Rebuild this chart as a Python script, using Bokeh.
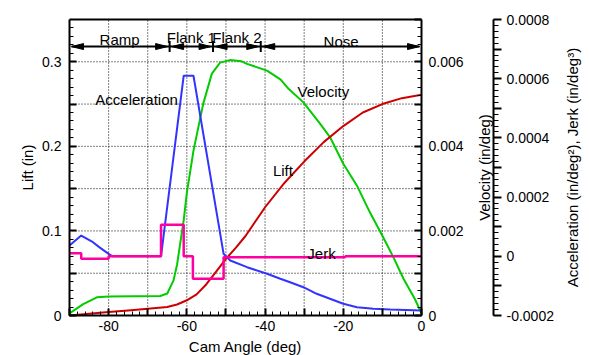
from bokeh.plotting import figure
from bokeh.models import (Range1d, LinearAxis, SingleIntervalTicker, FixedTicker,
                          CustomJSTickFormatter, Label)
from bokeh.core.properties import value
from bokeh.embed import file_html
from bokeh.resources import INLINE

FONT = "Liberation Sans"

# ---------------- data ----------------
angle_lift = [-90, -85, -80, -75, -70, -65, -62.5, -60, -57.5, -55, -52.5, -50, -47.5,
              -45, -40, -35, -30, -25, -20, -15, -10, -5, 0]
lift = [0.0, 0.002, 0.004, 0.006, 0.008, 0.010, 0.013, 0.018, 0.025, 0.037, 0.052, 0.067,
        0.080, 0.094, 0.128, 0.157, 0.182, 0.205, 0.224, 0.240, 0.250, 0.257, 0.261]

angle_vel = [-90, -86.5, -83, -80, -66.8, -65, -63.4, -62.5, -61.7, -60.8, -60, -58.3,
             -55.8, -53.6, -51.5, -49, -46, -44.6, -39.5, -36, -34, -30.2, -25.9, -23.4,
             -20, -16.5, -13.2, -9.8, -7.2, -4.6, -1.7, 0]
velocity = [0.00005, 0.00027, 0.00043, 0.00045, 0.00046, 0.00052, 0.00083, 0.00120,
            0.00170, 0.00225, 0.00290, 0.00390, 0.00501, 0.00572, 0.00598, 0.00604,
            0.00601, 0.00595, 0.00579, 0.00558, 0.00536, 0.00504, 0.00453, 0.00422,
            0.00359, 0.00307, 0.00244, 0.00185, 0.00138, 0.00087, 0.00039, 0.00005]

angle_acc = [-90, -87, -84, -82.4, -80, -79, -66.6, -60.8, -58.3, -50.6, -48.9, -44.6,
             -39.5, -36.1, -33.6, -30.2, -26.8, -23.4, -20, -16.5, -12.3, -8, 0]
acceleration = [0.0000365, 0.00007, 0.0000476, 0.000031, 0.0000084, 0.0, 0.0, 0.00061,
                0.00061, 0.0000084, -0.0000142, -0.0000368, -0.0000591, -0.000076,
                -0.0000875, -0.0001044, -0.0001267, -0.0001436, -0.0001605, -0.000172,
                -0.0001774, -0.0001797, -0.000183]

angle_jerk = [-90, -87, -80, -66.6, -60.8, -58.45, -50.6, -19.5, 0]
jerk = [0.0000105, -0.0000085, 0.0, 0.000107, 0.0, -0.000076, -0.000003, 0.0, 0.0]

section_names = ["Ramp", "Flank 1", "Flank 2", "Nose"]
section_bounds = [-90.0, -64.4, -53.3, -41.1, 0.0]
section_label_y = [0.326, 0.329, 0.329, 0.3245]
arrow_lift = 0.318

curve_labels = ["Acceleration", "Velocity", "Lift", "Jerk"]
curve_label_x = [-83.4, -31.7, -38.0, -29.2]
curve_label_y = [0.2551, 0.265, 0.1713, 0.0729]

x_grid_ticks = [-80, -70, -60, -50, -40, -30, -20, -10]
y_grid_ticks = [0.05, 0.10, 0.15, 0.20, 0.25, 0.30]

x_title = "Cam Angle (deg)"
lift_title = "Lift (in)"
vel_title = "Velocity (in/deg)"
acc_title = "Acceleration (in/deg²), Jerk (in/deg³)"

X_RANGE = (-90, 0)
LIFT_RANGE = (0, 0.35)
VEL_RANGE = (0, 0.007)
ACC_RANGE = (-0.0002, 0.0008)

# ---------------- layout (pixels on the canvas) ----------------
W, H = 586, 355
BOX_L, BOX_R, BOX_T, BOX_B = 69, 421, 19, 315      # plot box
ACC_AXIS_PX = 493                                  # 3rd axis line

xpx = (X_RANGE[1] - X_RANGE[0]) / (BOX_R - BOX_L)


def ext(rng):
    per = (rng[1] - rng[0]) / (BOX_B - BOX_T)
    return Range1d(rng[0] - (H - BOX_B) * per, rng[1] + BOX_T * per)


def px_x(px):
    return X_RANGE[0] + (px - BOX_L) * xpx


ypx = (LIFT_RANGE[1] - LIFT_RANGE[0]) / (BOX_B - BOX_T)


def px_y(py):
    return LIFT_RANGE[0] + (BOX_B - py) * ypx


p = figure(width=W, height=H,
           x_range=Range1d(px_x(0), px_x(W)), y_range=ext(LIFT_RANGE),
           output_backend="svg", toolbar_location=None,
           x_axis_location=None, y_axis_location=None,
           min_border=0, min_border_left=0, min_border_right=0,
           min_border_top=0, min_border_bottom=0)
p.background_fill_color = "white"
p.border_fill_color = "white"
p.outline_line_color = None
p.grid.visible = False
p.extra_y_ranges = {"vel": ext(VEL_RANGE), "acc": ext(ACC_RANGE)}


def style(ax, tin, tout, mtin, mtout, standoff):
    ax.axis_line_color = "black"
    ax.axis_line_width = 2
    ax.major_tick_line_color = "black"
    ax.major_tick_line_width = 2
    ax.minor_tick_line_color = "black"
    ax.minor_tick_line_width = 1
    ax.major_tick_in = tin
    ax.major_tick_out = tout
    ax.minor_tick_in = mtin
    ax.minor_tick_out = mtout
    ax.major_label_standoff = standoff
    ax.major_label_text_font = FONT
    ax.major_label_text_font_size = "14px"
    ax.major_label_text_color = "black"


# ---------------- grid (dotted, inside the plot box only) ----------------
p.segment(x0=x_grid_ticks, x1=x_grid_ticks, y0=[LIFT_RANGE[0]] * len(x_grid_ticks),
          y1=[LIFT_RANGE[1]] * len(x_grid_ticks), line_color="black", line_width=1,
          line_dash="1 2")
p.segment(x0=[X_RANGE[0]] * len(y_grid_ticks), x1=[X_RANGE[1]] * len(y_grid_ticks),
          y0=y_grid_ticks, y1=y_grid_ticks, line_color="black", line_width=1,
          line_dash="1 2")

# ---------------- axes ----------------
bottom_ax = LinearAxis(fixed_location=LIFT_RANGE[0], bounds=X_RANGE,
                       ticker=SingleIntervalTicker(interval=10, num_minor_ticks=5))
bottom_ax.formatter = CustomJSTickFormatter(
    code="return (Math.abs(tick % 20) < 1e-9) ? tick.toFixed(0) : '';")
style(bottom_ax, 7, 0, 4, 0, 5)
p.add_layout(bottom_ax, "below")

top_ax = LinearAxis(fixed_location=LIFT_RANGE[1], bounds=X_RANGE, ticker=FixedTicker(ticks=[]))
style(top_ax, 0, 0, 0, 0, 0)
p.add_layout(top_ax, "above")

left_ax = LinearAxis(fixed_location=X_RANGE[0], bounds=LIFT_RANGE,
                     ticker=SingleIntervalTicker(interval=0.05, num_minor_ticks=5))
left_ax.formatter = CustomJSTickFormatter(code="""
const k = Math.round(tick / 0.1);
if (Math.abs(tick - k * 0.1) > 1e-9) return '';
return k == 0 ? '0' : (k * 0.1).toFixed(1);
""")
style(left_ax, 7, 0, 4, 0, 8)
p.add_layout(left_ax, "left")

vel_ax = LinearAxis(y_range_name="vel", fixed_location=X_RANGE[1], bounds=VEL_RANGE,
                    ticker=SingleIntervalTicker(interval=0.001, num_minor_ticks=5))
vel_ax.formatter = CustomJSTickFormatter(code="""
const k = Math.round(tick / 0.002);
if (Math.abs(tick - k * 0.002) > 1e-12) return '';
return k == 0 ? '0' : (k * 0.002).toFixed(3);
""")
style(vel_ax, 7, 0, 4, 0, 7)
p.add_layout(vel_ax, "right")

acc_ax = LinearAxis(y_range_name="acc", fixed_location=px_x(ACC_AXIS_PX), bounds=ACC_RANGE,
                    ticker=SingleIntervalTicker(interval=0.0001, num_minor_ticks=5))
acc_ax.formatter = CustomJSTickFormatter(code="""
const k = Math.round(tick / 0.0002);
if (Math.abs(tick - k * 0.0002) > 1e-12) return '';
return k == 0 ? '0' : (k * 0.0002).toFixed(4);
""")
style(acc_ax, 0, 8, 0, 5, 5)
p.add_layout(acc_ax, "right")

# ---------------- curves ----------------
p.line(angle_vel, velocity, y_range_name="vel", line_color="#00CC00", line_width=2)
p.line(angle_acc, acceleration, y_range_name="acc", line_color="#3333FF", line_width=2)
p.line(angle_lift, lift, line_color="#CC0000", line_width=2)
p.step(angle_jerk, jerk, y_range_name="acc", mode="after", line_color="#FF00A0", line_width=2.5)

# ---------------- section arrows ----------------
gap, head_len, head_half = 2, 12, 3
hx, hy = [], []
for i in range(len(section_names)):
    a = section_bounds[i] + gap * xpx
    b = section_bounds[i + 1] - gap * xpx
    hx.append([a, a + head_len * xpx, a + head_len * xpx])
    hy.append([arrow_lift, arrow_lift + head_half * ypx, arrow_lift - head_half * ypx])
    hx.append([b, b - head_len * xpx, b - head_len * xpx])
    hy.append([arrow_lift, arrow_lift + head_half * ypx, arrow_lift - head_half * ypx])
p.line([section_bounds[0] + gap * xpx, section_bounds[-1] - gap * xpx],
       [arrow_lift, arrow_lift], line_color="black", line_width=2)
p.patches(hx, hy, fill_color="black", line_color="black", line_width=1)
inner = section_bounds[1:-1]
p.segment(x0=inner, x1=inner, y0=[arrow_lift - 5.5 * ypx] * len(inner),
          y1=[arrow_lift + 5.5 * ypx] * len(inner), line_color="black", line_width=2)

mids = [(section_bounds[i] + section_bounds[i + 1]) / 2 for i in range(len(section_names))]
p.text(x=mids, y=section_label_y, text=section_names, text_font=value(FONT),
       text_font_size="15px", text_align="center", text_baseline="alphabetic",
       text_color="black")

p.text(x=curve_label_x, y=curve_label_y, text=curve_labels, text_font=value(FONT),
       text_font_size="15px", text_align="left", text_baseline="alphabetic",
       text_color="black")

# ---------------- axis titles ----------------
y_mid = (LIFT_RANGE[0] + LIFT_RANGE[1]) / 2
x_mid = (X_RANGE[0] + X_RANGE[1]) / 2
titles = [
    (x_title, x_mid, px_y(345.5), 0),
    (lift_title, px_x(26.5), y_mid, 90),
    (vel_title, px_x(484), y_mid, 90),
    (acc_title, px_x(571.5), y_mid, 90),
]
for txt, tx, ty, ang in titles:
    p.add_layout(Label(x=tx, y=ty, text=txt, angle=ang, angle_units="deg",
                       text_align="center", text_baseline="alphabetic",
                       text_font=FONT, text_font_size="15px", text_color="black"))

open("out.html", "w").write(file_html(p, INLINE))
